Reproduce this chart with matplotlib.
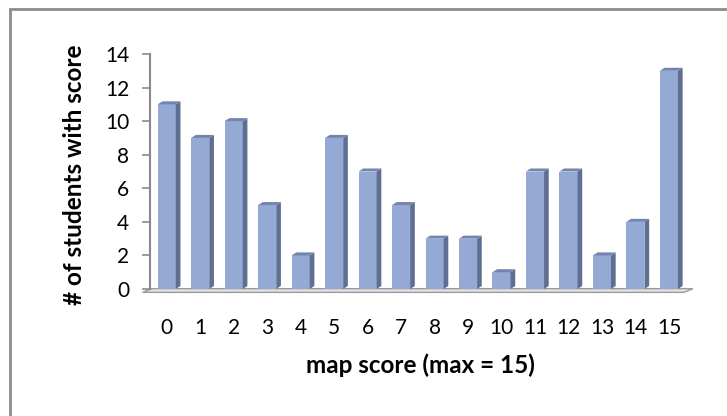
import matplotlib.pyplot as plt
from matplotlib.patches import Polygon, Rectangle

plt.rcParams['font.family'] = ['Lato', 'DejaVu Sans']

scores = list(range(16))
counts = [11, 9, 10, 5, 2, 9, 7, 5, 3, 3, 1, 7, 7, 2, 4, 13]
y_ticks = [0, 2, 4, 6, 8, 10, 12, 14]

front_col = '#95a9d5'
side_col = '#5f6f93'
top_col = '#7384ad'
axis_col = '#8a8a8a'

W, H = 727, 416
fig = plt.figure(figsize=(W / 100, H / 100), dpi=100)
# plot area in pixels: x 150..689, y 54..289 (from top)
ax = fig.add_axes([150 / W, (H - 289) / H, 539 / W, 235 / H])

width = 0.54
dx, dy = 0.14, 0.18   # fake 3D depth in data units

ax.bar(scores, counts, width=width, color=front_col, edgecolor='none', zorder=3)
for x, h in zip(scores, counts):
    x0, x1 = x - width / 2, x + width / 2
    ax.add_patch(Polygon([(x1, 0), (x1 + dx, dy), (x1 + dx, h + dy), (x1, h)],
                         closed=True, facecolor=side_col, edgecolor='none', zorder=3))
    ax.add_patch(Polygon([(x0, h), (x1, h), (x1 + dx, h + dy), (x0 + dx, h + dy)],
                         closed=True, facecolor=top_col, edgecolor='none', zorder=3))

# floor
ax.add_patch(Polygon([(-0.72, -0.2), (15.45, -0.2), (15.72, 0.02), (-0.45, 0.02)],
                     closed=True, facecolor='#e4e4e4', edgecolor='#9a9a9a', lw=1.0,
                     zorder=2, clip_on=False))

ax.set_xlim(-0.5, 15.6)
ax.set_ylim(0, 14)
ax.set_yticks(y_ticks)
ax.set_xticks(scores)
ax.set_xticklabels([str(s) for s in scores])

for s in ['top', 'right', 'bottom']:
    ax.spines[s].set_visible(False)
ax.spines['left'].set_color(axis_col)
ax.spines['left'].set_linewidth(1.5)
ax.tick_params(axis='y', direction='out', length=6, width=1.2, color=axis_col,
               labelsize=15, pad=9)
ax.tick_params(axis='x', length=0, labelsize=15, pad=21)

ax.set_xlabel('map score (max = 15)', fontsize=17.5, fontweight='bold')
ax.xaxis.set_label_coords((420 - 150) / 539, -(365 - 289) / 235)
ax.set_ylabel('# of students with score', fontsize=17.5, fontweight='bold')
ax.yaxis.set_label_coords(-(150 - 75) / 539, (289 - 175) / 235)
ax.yaxis.label.set_verticalalignment('center')
ax.xaxis.label.set_verticalalignment('center')

# chart area border (right/bottom fall outside the image)
fig.patches.append(Rectangle((10 / W, -0.1), 1.1, (H - 9) / H + 0.1,
                             transform=fig.transFigure, fill=False,
                             edgecolor='#8c8c8c', lw=2, figure=fig))

fig.savefig('out.png', dpi=100)
